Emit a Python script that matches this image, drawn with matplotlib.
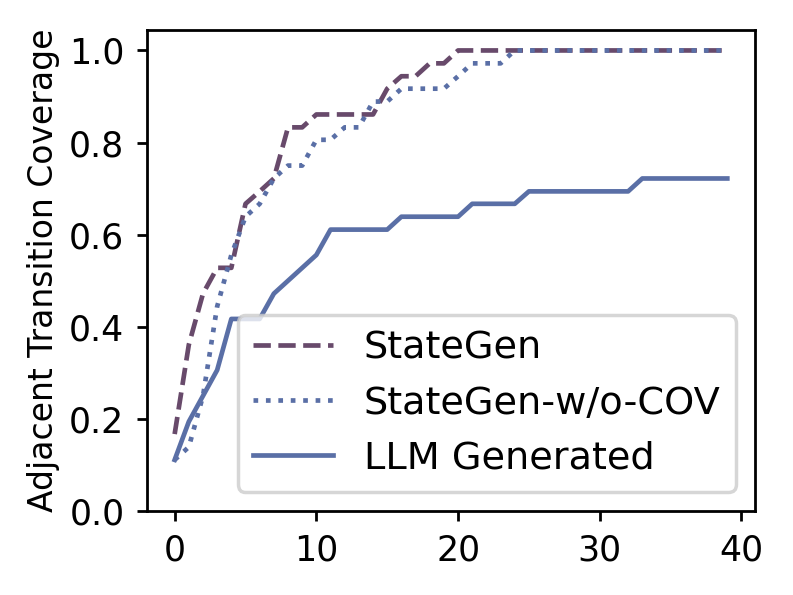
import numpy as np
import matplotlib
matplotlib.use("Agg")
import matplotlib.pyplot as plt

# coverage per step (multiples of 1/36)
steps = list(range(40))

stategen = [0.167, 0.361, 0.472, 0.528, 0.528, 0.667, 0.694, 0.722, 0.833, 0.833,
            0.861, 0.861, 0.861, 0.861, 0.861, 0.917, 0.944, 0.944, 0.972, 0.972] + [1.0] * 20

stategen_wo_cov = [0.111, 0.139, 0.250, 0.444, 0.556, 0.639, 0.667, 0.722, 0.750, 0.750,
                   0.806, 0.806, 0.833, 0.833, 0.889, 0.889, 0.917, 0.917, 0.917, 0.917,
                   0.944, 0.972, 0.972, 0.972] + [1.0] * 16

llm_generated = [0.111, 0.194, 0.250, 0.306, 0.417, 0.417, 0.417, 0.472, 0.500, 0.528,
                 0.556] + [0.611] * 5 + [0.639] * 5 + [0.667] * 4 + [0.694] * 8 + [0.722] * 7

DASH_COLOR = "#684a6b"
BLUE = "#5a6fa6"

fig = plt.figure(figsize=(793 / 250, 595 / 250), dpi=250)
ax = fig.add_axes([0.1854, 0.1412, 0.7666, 0.8084])

ax.plot(steps, stategen, linestyle="--", color=DASH_COLOR, lw=1.35, label="StateGen")
ax.plot(steps, stategen_wo_cov, linestyle=":", color=BLUE, lw=1.35, label="StateGen-w/o-COV")
ax.plot(steps, llm_generated, linestyle="-", color=BLUE, lw=1.35, label="LLM Generated")

ax.set_ylim(bottom=0)
ax.set_ylabel("Adjacent Transition Coverage", fontsize=9.5, labelpad=2.5)
ax.tick_params(labelsize=10, length=3)

ax.legend(loc="lower right", fontsize=11, handlelength=2.1)

fig.savefig("out.png", dpi=250)
